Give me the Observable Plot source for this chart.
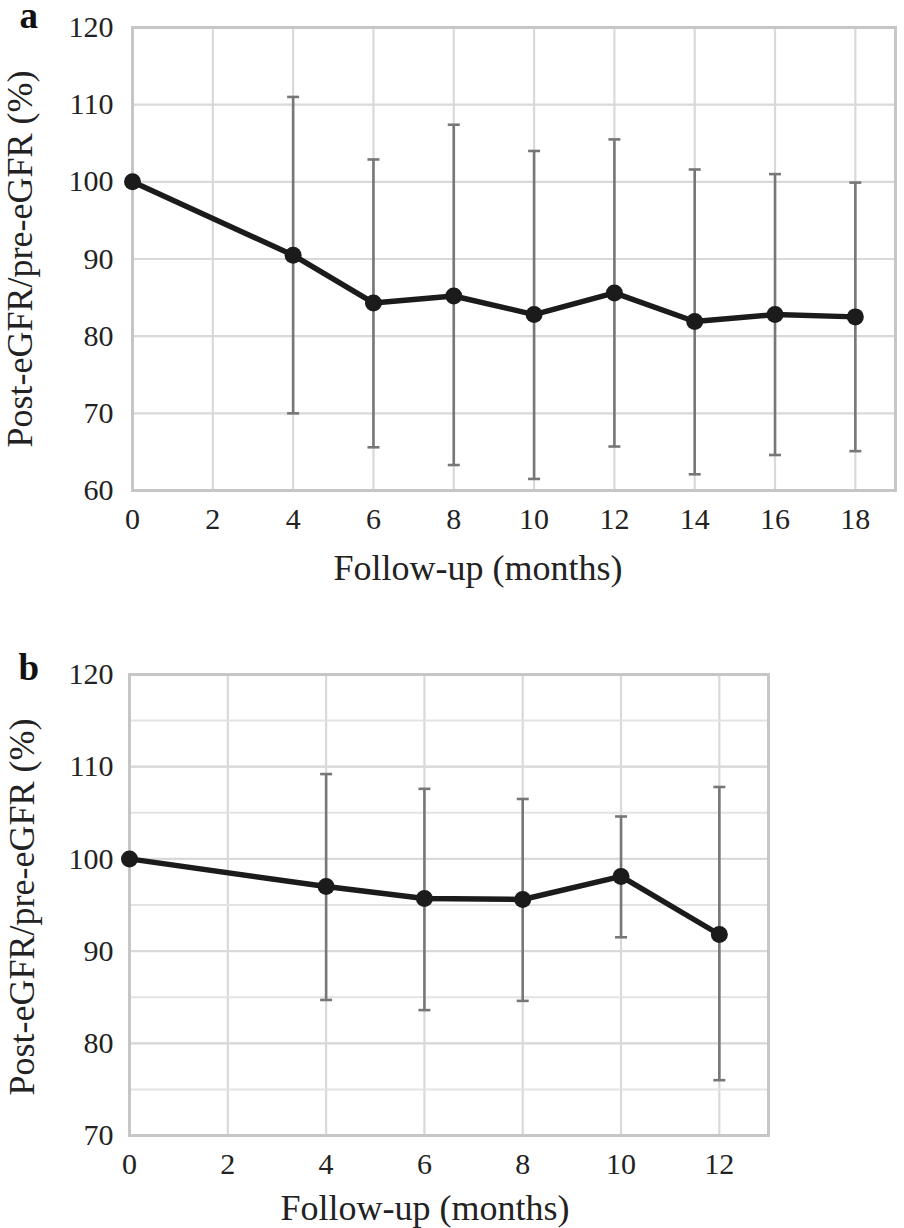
<!DOCTYPE html>
<html>
<head>
<meta charset="utf-8">
<script src="https://cdn.jsdelivr.net/npm/d3@7"></script>
<script src="https://cdn.jsdelivr.net/npm/@observablehq/plot@0.6"></script>
<style>
  html, body { margin: 0; padding: 0; background: #fff; }
  #chart svg { display: block; }
</style>
</head>
<body>
<div id="chart"></div>
<script>
// ---- Panel a data ----
const monthsA = [0, 4, 6, 8, 10, 12, 14, 16, 18];
const meanA   = [100, 90.5, 84.3, 85.2, 82.8, 85.6, 81.9, 82.8, 82.5];
const upperA  = [null, 111.0, 102.9, 107.4, 104.0, 105.5, 101.6, 101.0, 99.9];
const lowerA  = [null, 70.0, 65.6, 63.3, 61.5, 65.7, 62.1, 64.6, 65.1];
const xTicksA = [0, 2, 4, 6, 8, 10, 12, 14, 16, 18];
const yTicksA = [60, 70, 80, 90, 100, 110, 120];

// ---- Panel b data ----
const monthsB = [0, 4, 6, 8, 10, 12];
const meanB   = [100, 97.0, 95.7, 95.6, 98.1, 91.8];
const upperB  = [null, 109.2, 107.6, 106.5, 104.6, 107.8];
const lowerB  = [null, 84.7, 83.6, 84.6, 91.5, 76.0];
const xTicksB = [0, 2, 4, 6, 8, 10, 12];
const yTicksB = [70, 80, 90, 100, 110, 120];
const yGridB  = [70, 75, 80, 85, 90, 95, 100, 105, 110, 115, 120];

const xLabel = "Follow-up (months)";
const yLabel = "Post-eGFR/pre-eGFR (%)";

const FONT = "'Liberation Serif', 'Times New Roman', Times, serif";
const capSymbol = {
  draw(ctx, size) {
    const h = Math.sqrt(size / Math.PI);
    ctx.moveTo(-h, 0);
    ctx.lineTo(h, 0);
  }
};

function rows(months, mean, upper, lower) {
  return months.map((m, i) => ({m, v: mean[i], hi: upper[i], lo: lower[i]}));
}

function panel(cfg) {
  const data = rows(cfg.months, cfg.mean, cfg.upper, cfg.lower);
  const bars = data.filter(d => d.hi != null);
  return Plot.plot({
    width: 904,
    height: cfg.height,
    marginTop: cfg.mt, marginBottom: cfg.mb, marginLeft: cfg.ml, marginRight: cfg.mr,
    style: {fontFamily: FONT, fontSize: "30px", color: "#222", background: "#fff", overflow: "visible"},
    x: {domain: cfg.xDomain},
    y: {domain: cfg.yDomain},
    marks: [
      Plot.gridX(cfg.xTicks, {stroke: "#d9d9d9", strokeOpacity: 1, strokeWidth: 2.2}),
      Plot.gridY(cfg.yGridMinor || [], {stroke: "#e3e3e3", strokeOpacity: 1, strokeWidth: 2}),
      Plot.gridY(cfg.yTicks, {stroke: "#d9d9d9", strokeOpacity: 1, strokeWidth: 2.2}),
      Plot.frame({stroke: "#c6c6c6", strokeWidth: 3}),
      Plot.axisX({ticks: cfg.xTicks, tickSize: 0, tickPadding: 17, label: null, fontSize: 30, fill: "#222"}),
      Plot.axisY({ticks: cfg.yTicks, tickSize: 0, tickPadding: cfg.yPad, label: null, fontSize: 30, fill: "#222"}),
      Plot.ruleX(bars, {x: "m", y1: "lo", y2: "hi", stroke: "#777", strokeWidth: 2.6}),
      Plot.dot(bars, {x: "m", y: "hi", symbol: capSymbol, r: 6, stroke: "#777", strokeWidth: 2.6, fill: "none"}),
      Plot.dot(bars, {x: "m", y: "lo", symbol: capSymbol, r: 6, stroke: "#777", strokeWidth: 2.6, fill: "none"}),
      Plot.line(data, {x: "m", y: "v", stroke: "#1b1b1b", strokeWidth: 5.5, strokeLinejoin: "round"}),
      Plot.dot(data, {x: "m", y: "v", r: 8.5, fill: "#1b1b1b", stroke: "none"}),
      Plot.text([xLabel], {frameAnchor: "bottom", text: d => d, fontSize: 36, textAnchor: "middle", lineAnchor: "bottom", dx: cfg.xlDx, dy: cfg.xlDy, fill: "#222"}),
      Plot.text([yLabel], {frameAnchor: "left", text: d => d, fontSize: 36, rotate: -90, textAnchor: "middle", lineAnchor: "bottom", dx: cfg.ylDx, dy: cfg.ylDy, fill: "#222"}),
      Plot.text([cfg.letter], {frameAnchor: "top-left", text: d => d, fontSize: 37, fontWeight: "bold", textAnchor: "start", lineAnchor: "bottom", dx: cfg.lDx, dy: cfg.lDy, fill: "#111"})
    ]
  });
}

const chart = document.getElementById("chart");
chart.appendChild(panel({
  months: monthsA, mean: meanA, upper: upperA, lower: lowerA,
  xTicks: xTicksA, yTicks: yTicksA, xDomain: [0, 19], yDomain: [60, 120],
  height: 610, mt: 27, mb: 120, ml: 132, mr: 9, yPad: 19,
  xlDx: -36, xlDy: 89, ylDx: -101, ylDy: 0, letter: "a", lDx: -113, lDy: 0
}));
chart.appendChild(panel({
  months: monthsB, mean: meanB, upper: upperB, lower: lowerB,
  xTicks: xTicksB, yTicks: yTicksB, yGridMinor: yGridB, xDomain: [0, 13], yDomain: [70, 120],
  height: 618, mt: 64, mb: 93, ml: 129, mr: 136, yPad: 16,
  xlDx: -24, xlDy: 84, ylDx: -96, ylDy: 2, letter: "b", lDx: -111, lDy: 5
}));
</script>
</body>
</html>
